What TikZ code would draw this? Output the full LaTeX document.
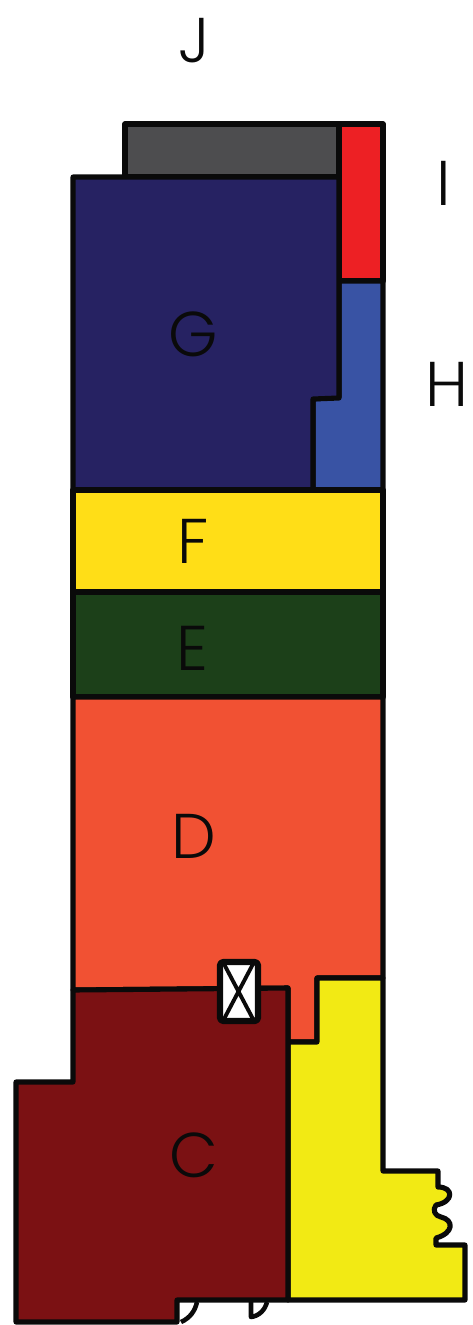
\documentclass[tikz,border=0pt]{standalone}
\usepackage{xcolor}
\usepackage{fontspec}
\setmainfont{Poppins Light}
\definecolor{roomgrey}{HTML}{4D4D4F}
\definecolor{roomred}{HTML}{ED2024}
\definecolor{roomblue}{HTML}{3953A4}
\definecolor{roomnavy}{HTML}{262262}
\definecolor{roomgold}{HTML}{FFDE17}
\definecolor{roomgreen}{HTML}{1C4019}
\definecolor{roomorange}{HTML}{F15133}
\definecolor{roommaroon}{HTML}{7B1113}
\definecolor{roomyellow}{HTML}{F2EA14}
\definecolor{inkline}{HTML}{0A0A0A}

\begin{document}
\begin{tikzpicture}[
  x=0.02cm, y=-0.02cm,
  room/.style={draw=inkline, line width=2.9pt, line join=round},
  roomlabel/.style={text=inkline, inner sep=0pt, font=\fontsize{36}{36}\selectfont}
]
  \useasboundingbox (0,0) rectangle (473,1325);
  % rooms from top to bottom
  \draw[room, fill=roomgrey] (125,124) -- (339,124) -- (339,177) -- (125,177) -- cycle;
  \draw[room, fill=roomred] (339,124) -- (383,124) -- (383,281) -- (339,281) -- cycle;
  \draw[room, fill=roomblue] (339,281) -- (383,281) -- (383,490) -- (313,490) -- (313,399) -- (339,397) -- cycle;
  \draw[room, fill=roomnavy] (73,177) -- (339,177) -- (339,398) -- (313,399) -- (313,490) -- (73,490) -- cycle;
  \draw[room, fill=roomgold] (73,490) -- (383,490) -- (383,592) -- (73,592) -- cycle;
  \draw[room, fill=roomgreen] (73,592) -- (383,592) -- (383,697) -- (73,697) -- cycle;
  \draw[room, fill=roomorange] (73,697) -- (383,697) -- (383,978) -- (317,978) -- (317,1042) -- (288,1042) -- (288,988) -- (73,990) -- cycle;
  \draw[room, fill=roomyellow] (383,978) -- (383,1171) -- (438,1171) -- (438,1187)
    .. controls (454,1187) and (454,1202) .. (436,1205)
    .. controls (432,1210) and (435,1216) .. (441,1217)
    .. controls (454,1220) and (454,1233) .. (436,1238)
    -- (436,1245) -- (465,1245) -- (465,1300) -- (288,1300) -- (288,1042) -- (317,1042) -- (317,978) -- cycle;
  \draw[room, fill=roommaroon] (73,990) -- (288,988) -- (288,1300) -- (177,1300) -- (177,1322) -- (16,1322) -- (16,1082) -- (73,1082) -- cycle;
  % door swings under the bottom wall
  \draw[room, line width=2.6pt] (181,1322) .. controls (190,1318) and (195,1311) .. (197,1302);
  \draw[room, line width=2.6pt] (251,1301) -- (251,1317) .. controls (259,1316) and (265,1310) .. (267,1302);
  % lift
  \draw[room, fill=white, line width=3.6pt, rounded corners=2pt] (220,962) rectangle (258,1021);
  \draw[inkline, line width=2.2pt] (224,964) -- (253,1019) (253,964) -- (224,1019);
  % letters
  \node[roomlabel] (labelj) at (194,41) {J};
  \node[roomlabel] (labeli) at (444,183) {I};
  \node[roomlabel] (labelh) at (447,384) {H};
  \node[roomlabel] (labelg) at (193,334) {G};
  \node[roomlabel] (labelf) at (193,541) {F};
  \node[roomlabel] (labele) at (192,648) {E};
  \node[roomlabel] (labeld) at (194,836) {D};
  \node[roomlabel] (labelc) at (194,1155) {C};
\end{tikzpicture}
\end{document}
